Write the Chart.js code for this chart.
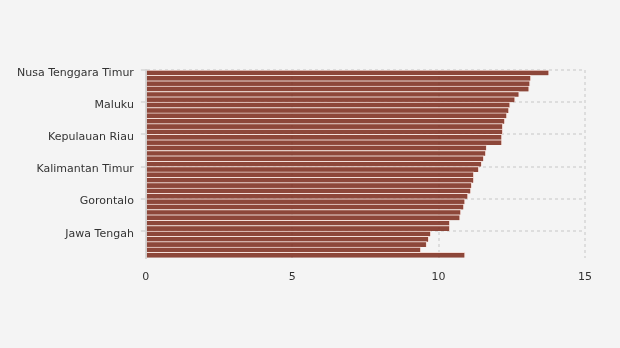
<!DOCTYPE html>
<html>
<head>
<meta charset="utf-8">
<script src="https://cdn.jsdelivr.net/npm/chart.js@4/dist/chart.umd.min.js"></script>
<style>
    html, body { margin: 0; padding: 0; background: #f4f4f4; }
    #wrap { width: 620px; height: 348px; }
</style>
</head>
<body>
<div id="wrap"><canvas id="barChart"></canvas></div>
<script>
// Provinces, sorted by value (last row is the national figure)
const provinces = [
    'Nusa Tenggara Timur', 'Papua', 'Papua Barat', 'Sulawesi Tenggara', 'Maluku Utara',
    'Sulawesi Tengah', 'Maluku', 'Sulawesi Barat', 'Kalimantan Barat', 'Sumatera Utara',
    'Sulawesi Selatan', 'Sumatera Barat', 'Kepulauan Riau', 'Aceh', 'Nusa Tenggara Barat',
    'Riau', 'Jambi', 'Kalimantan Tengah', 'Kalimantan Timur', 'Kalimantan Utara',
    'Bengkulu', 'Sumatera Selatan', 'Lampung', 'Kepulauan Bangka Belitung', 'Gorontalo',
    'Sulawesi Utara', 'Kalimantan Selatan', 'Banten', 'Jawa Barat', 'Bali',
    'Jawa Tengah', 'DI Yogyakarta', 'Jawa Timur', 'DKI Jakarta', 'Indonesia'
];

const values = [
    13.77, 13.15, 13.12, 13.09, 12.75,
    12.61, 12.44, 12.40, 12.33, 12.26,
    12.19, 12.19, 12.16, 12.16, 11.64,
    11.61, 11.54, 11.47, 11.37, 11.20,
    11.20, 11.13, 11.10, 11.00, 10.90,
    10.86, 10.76, 10.73, 10.38, 10.38,
    9.73, 9.66, 9.59, 9.39, 10.90
];

const xTicks = [0, 5, 10, 15];
const labelStep = 6;

const ctx = document.getElementById('barChart');
new Chart(ctx.getContext('2d'), {
    type: 'bar',
    data: {
        labels: provinces,
        datasets: [{
            data: values,
            backgroundColor: 'rgba(125, 45, 30, 0.87)',
            borderColor: '#f3ddd8',
            borderWidth: { top: 1, right: 1, bottom: 0, left: 0 },
            borderSkipped: false,
            barPercentage: 1,
            categoryPercentage: 1
        }]
    },
    options: {
        indexAxis: 'y',
        responsive: true,
        maintainAspectRatio: false,
        animation: false,
        layout: { padding: { top: 70, right: 35, bottom: 51, left: 10 } },
        plugins: {
            legend: { display: false },
            tooltip: { enabled: false }
        },
        scales: {
            x: {
                min: 0,
                max: 15,
                afterBuildTicks: axis => { axis.ticks = xTicks.map(v => ({ value: v })); },
                grid: {
                    color: '#dddddd',
                    lineWidth: 2,
                    drawTicks: false
                },
                border: { display: false, dash: [3, 3] },
                ticks: {
                    color: '#333333',
                    padding: 13,
                    font: { family: 'DejaVu Sans', size: 11 }
                }
            },
            y: {
                grid: {
                    offset: true,
                    color: c => (c.index % labelStep === 0 ? '#dddddd' : 'rgba(0,0,0,0)'),
                    lineWidth: 2,
                    tickLength: 5,
                    tickColor: c => (c.index % labelStep === 0 ? '#dddddd' : 'rgba(0,0,0,0)')
                },
                border: { display: true, color: '#d6d6d6', width: 2, dash: [3, 3] },
                ticks: {
                    autoSkip: false,
                    color: '#333333',
                    padding: 7,
                    font: { family: 'DejaVu Sans', size: 11 },
                    callback: function (value, index) {
                        return index % labelStep === 0 ? this.getLabelForValue(value) : '';
                    }
                }
            }
        }
    }
});
</script>
</body>
</html>
